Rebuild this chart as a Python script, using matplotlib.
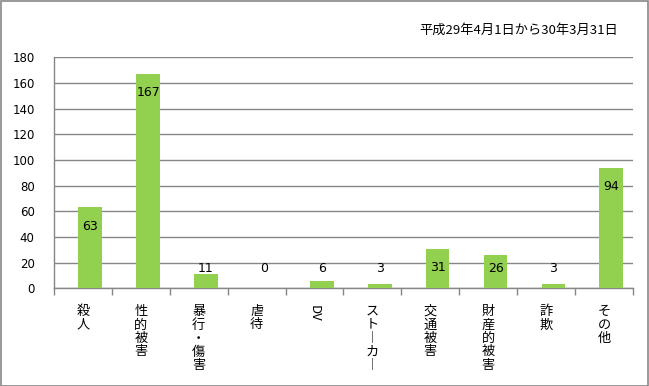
import matplotlib
matplotlib.use("Agg")
import matplotlib.pyplot as plt
from matplotlib.patches import Rectangle

plt.rcParams['font.family'] = ['DejaVu Sans', 'Noto Sans CJK JP']

# data
categories = ["殺人", "性的被害", "暴行・傷害", "虐待", "DV", "ストーカー", "交通被害", "財産的被害", "詐欺", "その他"]
counts = [63, 167, 11, 0, 6, 3, 31, 26, 3, 94]
y_ticks = [0, 20, 40, 60, 80, 100, 120, 140, 160, 180]
period_text = "平成29年4月1日から30年3月31日"

bar_color = "#92D050"
grid_color = "#868686"
jp_font = ['Noto Sans CJK JP', 'DejaVu Sans']

fig = plt.figure(figsize=(6.49, 3.86), dpi=100)
ax = fig.add_axes([0.0832, 0.2531, 0.8921, 0.5985])

x = list(range(len(categories)))
# bars sit a bit right of the category centre (second empty series in the original)
bar_x = [i + 0.126 for i in x]
ax.bar(bar_x, counts, width=0.41, color=bar_color, zorder=3)

ax.set_xlim(-0.5, len(categories) - 0.5)
ax.set_ylim(0, 180)
ax.set_yticks(y_ticks)
ax.set_yticklabels([str(t) for t in y_ticks], fontsize=8.5)
ax.tick_params(axis='y', length=0, pad=14)
ax.yaxis.grid(True, color=grid_color, linewidth=1.0, zorder=0)

# ticks on the category boundaries
ax.set_xticks([i - 0.5 for i in range(len(categories) + 1)])
ax.set_xticklabels([])
ax.tick_params(axis='x', length=5, color=grid_color, width=1.0, direction='out')

for side in ['top', 'right']:
    ax.spines[side].set_visible(False)
for side in ['left', 'bottom']:
    ax.spines[side].set_color(grid_color)
    ax.spines[side].set_linewidth(1.0)

# value labels: inside end, but never lower than a floor near the axis
for bx, v in zip(bar_x, counts):
    ly = max(v - 14.8, 15.6)
    ax.text(bx, ly, str(v), ha='center', va='center', fontsize=9, zorder=4)

# vertical category labels
for i, name in enumerate(categories):
    if name == "DV":
        ax.text(i, -0.072, name, transform=ax.get_xaxis_transform(),
                ha='center', va='top', rotation=-90, fontsize=9.5, family=jp_font)
    else:
        stacked = "\n".join("︱" if c == "ー" else c for c in name)
        ax.text(i, -0.072, stacked, transform=ax.get_xaxis_transform(),
                ha='center', va='top', fontsize=9.5, linespacing=1.05, family=jp_font)

fig.text(618 / 649, 1 - 30 / 386, period_text, ha='right', va='center',
         fontsize=9.5, family=jp_font)

# figure border
fig.patches.append(Rectangle((0.001, 0.001), 0.998, 0.997, transform=fig.transFigure,
                             fill=False, edgecolor="#888888", linewidth=1.2))

fig.savefig("out.png", dpi=100)
